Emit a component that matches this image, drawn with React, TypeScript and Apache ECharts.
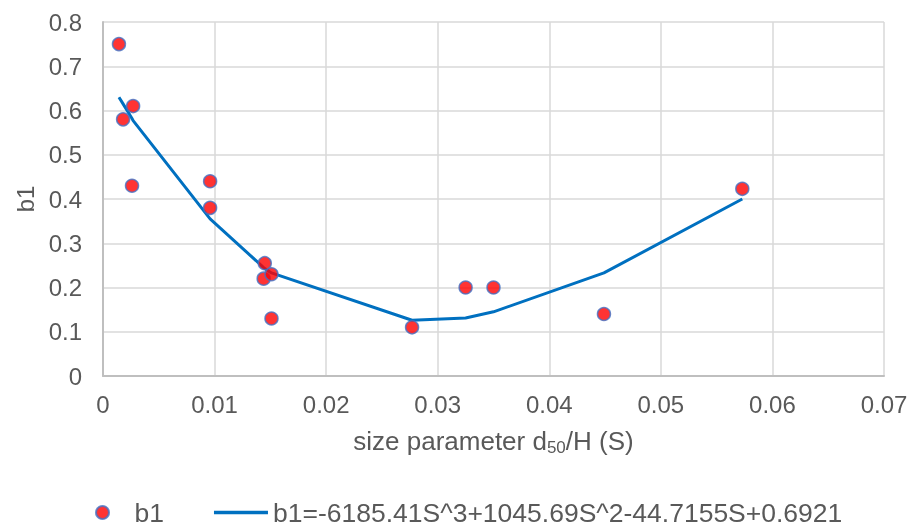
import React, { useEffect, useRef } from "react";
import * as echarts from "echarts";

const pointsS = [0.00143, 0.0018, 0.0027, 0.0026, 0.0096, 0.0096, 0.0145, 0.0144, 0.0151, 0.0151, 0.0277, 0.0325, 0.035, 0.0449, 0.0573];
const pointsB1 = [0.75, 0.58, 0.61, 0.43, 0.44, 0.38, 0.255, 0.22, 0.23, 0.13, 0.11, 0.2, 0.2, 0.14, 0.423];

const fitS = [0.00143, 0.0018, 0.0026, 0.0027, 0.0096, 0.0144, 0.0145, 0.0151, 0.0277, 0.0325, 0.035, 0.0449, 0.0573];
const fitB1 = [0.63, 0.615, 0.582, 0.577, 0.355, 0.245, 0.243, 0.233, 0.126, 0.131, 0.145, 0.233, 0.4];

const xTicks = { min: 0, max: 0.07, interval: 0.01 };
const yTicks = { min: 0, max: 0.8, interval: 0.1 };

const seriesNames = ["b1", "b1=-6185.41S^3+1045.69S^2-44.7155S+0.6921"];

export default function App() {
  const ref = useRef<HTMLDivElement>(null);
  useEffect(() => {
    if (!ref.current) return;
    const chart = echarts.init(ref.current, null, { renderer: "svg" });
    const font = "'Liberation Sans', Arial, sans-serif";
    const gray = "#595959";
    chart.setOption({
      animation: false,
      textStyle: { fontFamily: font },
      grid: { left: 103, top: 22, right: 27, bottom: 151, containLabel: false },
      xAxis: {
        type: "value",
        ...xTicks,
        axisLine: { show: true, onZero: false, lineStyle: { color: "#bfbfbf", width: 2 } },
        axisTick: { show: false },
        splitLine: { show: true, lineStyle: { color: "#d9d9d9", width: 1.5 } },
        axisLabel: {
          color: gray,
          fontSize: 24,
          fontFamily: font,
          margin: 16,
          formatter: (v: number) => String(+v.toFixed(2)),
        },
        name: "{a|size parameter d}{s|50}{a|/H (S)}",
        nameLocation: "middle",
        nameGap: 49,
        nameTextStyle: {
          rich: {
            a: { fontSize: 26, color: gray, fontFamily: font },
            s: { fontSize: 17, color: gray, fontFamily: font, verticalAlign: "bottom", padding: [14, 0, 0, 0] },
          },
        },
      },
      yAxis: {
        type: "value",
        ...yTicks,
        axisLine: { show: true, onZero: false, lineStyle: { color: "#bfbfbf", width: 2 } },
        axisTick: { show: false },
        splitLine: { show: true, lineStyle: { color: "#d9d9d9", width: 1.5 } },
        axisLabel: {
          color: gray,
          fontSize: 24,
          fontFamily: font,
          margin: 21,
          formatter: (v: number) => String(+v.toFixed(1)),
        },
        name: "b1",
        nameLocation: "middle",
        nameGap: 65,
        nameTextStyle: { fontSize: 24, color: gray, fontFamily: font },
      },
      legend: {
        top: 494,
        left: 90,
        itemGap: 50,
        itemWidth: 54,
        itemHeight: 13,
        textStyle: { fontSize: 26.5, color: gray, fontFamily: font },
        data: [
          { name: seriesNames[0], icon: "circle" },
          { name: seriesNames[1], icon: "path://M0 0H54V3.5H0Z" },
        ],
      },
      series: [
        {
          name: seriesNames[1],
          type: "line",
          data: fitS.map((s, i) => [s, fitB1[i]]),
          symbol: "none",
          lineStyle: { color: "#0070c0", width: 3 },
          itemStyle: { color: "#0070c0" },
          z: 2,
        },
        {
          name: seriesNames[0],
          type: "scatter",
          data: pointsS.map((s, i) => [s, pointsB1[i]]),
          symbol: "circle",
          symbolSize: 13,
          itemStyle: { color: "#ff0000", borderColor: "#4472c4", borderWidth: 1.5 },
          z: 3,
        },
      ],
    });
    return () => chart.dispose();
  }, []);
  return (
    <div
      ref={ref}
      style={{ position: "fixed", left: 0, top: 0, width: 911, height: 527 }}
    />
  );
}
